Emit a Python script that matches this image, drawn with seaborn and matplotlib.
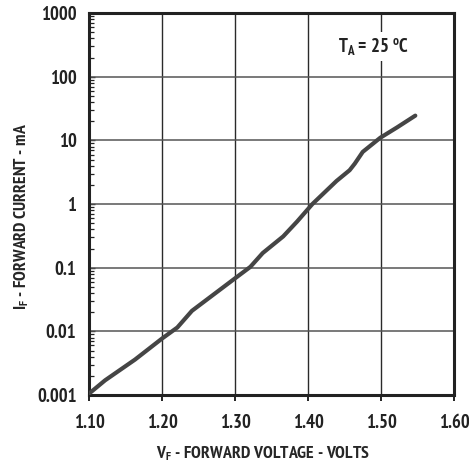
import numpy as np
import pandas as pd
import matplotlib
matplotlib.use('Agg')
import matplotlib.pyplot as plt
import matplotlib.ticker as mticker
import seaborn as sns

# forward voltage (V) vs forward current (mA)
vf = [1.100, 1.122, 1.163, 1.200, 1.221, 1.241, 1.277, 1.300, 1.321, 1.338,
      1.366, 1.385, 1.406, 1.439, 1.457, 1.464, 1.475, 1.499, 1.522, 1.547]
i_f = [0.00105, 0.0017, 0.0036, 0.0077, 0.0115, 0.021, 0.043, 0.068, 0.103, 0.17,
       0.31, 0.53, 1.0, 2.3, 3.4, 4.3, 6.6, 11.0, 16.0, 24.5]

x_ticks = [1.10, 1.20, 1.30, 1.40, 1.50, 1.60]
x_labels = ['1.10', '1.20', '1.30', '1.40', '1.50', '1.60']
y_ticks = [0.001, 0.01, 0.1, 1, 10, 100, 1000]
y_labels = ['0.001', '0.01', '0.1', '1', '10', '100', '1000']

sns.set_style('white')
fnt = 'PT Sans Narrow'
plt.rcParams['font.family'] = [fnt, 'DejaVu Sans']
plt.rcParams['font.weight'] = 'bold'
plt.rcParams['mathtext.fontset'] = 'custom'
plt.rcParams['mathtext.rm'] = fnt + ':bold'
plt.rcParams['mathtext.it'] = fnt + ':bold'
plt.rcParams['mathtext.bf'] = fnt + ':bold'
plt.rcParams['mathtext.default'] = 'rm'
plt.rcParams['text.color'] = '#222222'

df = pd.DataFrame({'vf': vf, 'if': i_f})

fig = plt.figure(figsize=(4.69, 4.68), dpi=100)
ax = fig.add_axes([0.1898, 0.156, 0.7782, 0.816])

ax.set_yscale('log')
ax.set_xlim(1.10, 1.60)
ax.set_ylim(0.001, 1000)

# grid
for xv in x_ticks[1:-1]:
    ax.axvline(xv, color='#2a2a2a', lw=1.0, zorder=1)
for yv in y_ticks[1:-1]:
    ax.axhline(yv, color='#555555', lw=1.1, zorder=1)

sns.lineplot(data=df, x='vf', y='if', ax=ax, color='#454545', lw=3.0,
             sort=False, zorder=3, clip_on=True)

ax.xaxis.set_major_locator(mticker.FixedLocator(x_ticks))
ax.set_xticklabels(x_labels)
ax.xaxis.set_minor_locator(mticker.NullLocator())
ax.yaxis.set_major_locator(mticker.FixedLocator(y_ticks))
ax.set_yticklabels(y_labels)
ax.yaxis.set_minor_locator(mticker.LogLocator(base=10, subs=np.arange(2, 10)))
ax.yaxis.set_minor_formatter(mticker.NullFormatter())

ax.tick_params(axis='x', which='major', direction='out', length=4, width=1.4,
               bottom=True, labelsize=13.5, pad=9.5, color='#222222', labelcolor='#222222')
ax.tick_params(axis='y', which='major', direction='in', length=4, width=1.0,
               left=True, labelsize=13.5, pad=9, color='#222222', labelcolor='#222222')
ax.tick_params(axis='y', which='minor', direction='in', length=3.5, width=0.9,
               left=True, color='#222222')

for s in ax.spines.values():
    s.set_visible(True)
    s.set_color('#222222')
    s.set_linewidth(2.2)

ax.set_xlabel('V$_F$ - FORWARD VOLTAGE - VOLTS', fontsize=12, fontweight='bold')
ax.set_ylabel('I$_F$ - FORWARD CURRENT - mA', fontsize=12, fontweight='bold')

# fit label lengths to the reference (x label ~213 px, y label ~187 px)
fig.canvas.draw()
r = fig.canvas.get_renderer()
for lab, target in ((ax.xaxis.label, 213), (ax.yaxis.label, 187)):
    bb = lab.get_window_extent(r)
    size = max(bb.width, bb.height)
    lab.set_fontsize(lab.get_fontsize() * target / size)

ax.xaxis.set_label_coords(0.477, -0.128)
ax.yaxis.set_label_coords(-0.16, 0.467)

ax.text(1.49, 300, 'T$_A$ = 25 $^o$C', fontsize=13.5, ha='center', va='center',
        zorder=4, bbox=dict(facecolor='white', edgecolor='none', pad=3))

plt.savefig('out.png', dpi=100)
